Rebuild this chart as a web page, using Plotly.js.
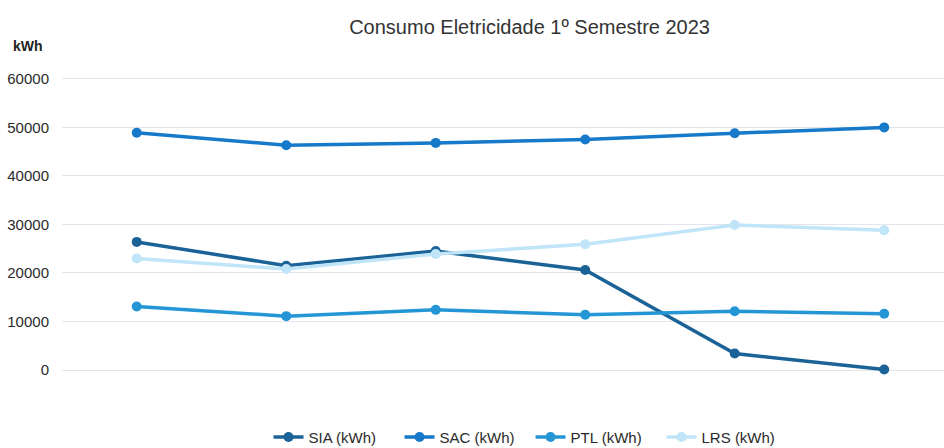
<!DOCTYPE html>
<html>
<head>
<meta charset="utf-8">
<script src="https://cdn.plot.ly/plotly-3.0.1.min.js"></script>
<style>html,body{margin:0;padding:0;background:#fff;}#chart{width:944px;height:448px;}</style>
</head>
<body>
<div id="chart"></div>
<script>
const months = ["Jan", "Fev", "Mar", "Abr", "Mai", "Jun"];
const sia = [26400, 21500, 24500, 20600, 3400, 100];
const sac = [48900, 46300, 46800, 47500, 48800, 50000];
const ptl = [13100, 11100, 12400, 11400, 12100, 11600];
const lrs = [23000, 20800, 23900, 25900, 29900, 28800];
const seriesNames = ["SIA (kWh)", "SAC (kWh)", "PTL (kWh)", "LRS (kWh)"];
const seriesColors = ["#1b6396", "#1779c9", "#2596d5", "#c0e4f8"];
const yTicks = [0, 10000, 20000, 30000, 40000, 50000, 60000];

const FONT = "'Liberation Sans Narrow', 'Arial Narrow', 'Liberation Sans', Arial, sans-serif";
const data = [sia, sac, ptl, lrs].map((vals, i) => ({
  type: "scatter",
  mode: "lines+markers",
  x: months,
  y: vals,
  name: seriesNames[i],
  line: {color: seriesColors[i], width: 3.5},
  marker: {color: seriesColors[i], size: 10}
}));

const layout = {
  width: 944, height: 448,
  margin: {l: 62, r: 0, t: 74, b: 61},
  paper_bgcolor: "#ffffff",
  plot_bgcolor: "#ffffff",
  font: {family: FONT, size: 15, color: "#333333"},
  title: {text: "Consumo Eletricidade 1º Semestre 2023", x: 0.561, xanchor: "center", y: 0.94, yanchor: "middle",
          font: {family: FONT, size: 20, color: "#333333"}},
  xaxis: {type: "category", range: [-0.5, 5.4], showticklabels: false, showgrid: false, zeroline: false, showline: false, ticks: ""},
  yaxis: {range: [-3500, 61000], tickvals: yTicks, ticktext: yTicks.map(String), showgrid: true, gridcolor: "#e4e4ec", gridwidth: 1,
          zeroline: false, showline: false, ticks: "", ticklabelstandoff: 12, tickfont: {family: FONT, size: 15, color: "#2a2a2a"}},
  showlegend: true,
  legend: {orientation: "h", xref: "container", yref: "container", x: 0.562, xanchor: "center", y: 0.024, yanchor: "middle",
           font: {family: FONT, size: 15, color: "#2a2a2a"},
           itemwidth: 30, tracegroupgap: 0, entrywidth: 86, entrywidthmode: "pixels"},
  annotations: [{text: "<b>kWh</b>", xref: "paper", yref: "paper", x: -0.0385, y: 1.09, xanchor: "center", yanchor: "middle", showarrow: false,
                 font: {family: FONT, size: 14, color: "#222222"}}]
};

Plotly.newPlot("chart", data, layout, {displayModeBar: false, staticPlot: true});
</script>
</body>
</html>
